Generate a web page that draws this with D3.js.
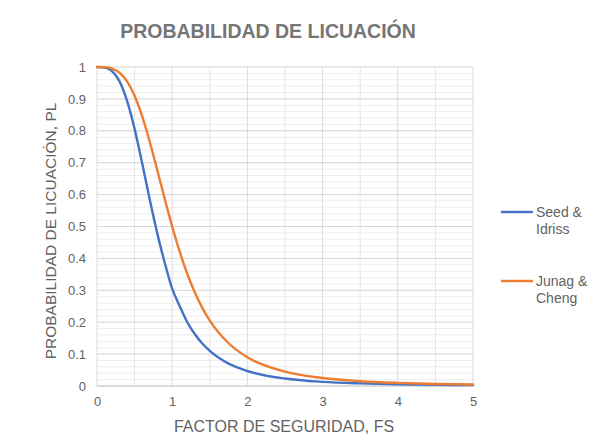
<!DOCTYPE html>
<html><head><meta charset="utf-8">
<script src="https://cdn.jsdelivr.net/npm/d3@7"></script>
<style>
html,body{margin:0;padding:0;background:#fff;}
svg text{font-family:"Liberation Sans",Arial,sans-serif;}
</style></head>
<body>
<svg id="chart" width="592" height="434"></svg>
<script>
const fsValues = [0, 0.1, 0.2, 0.3, 0.4, 0.5, 0.6, 0.7, 0.8, 0.9, 1.0, 1.1, 1.2, 1.3, 1.4, 1.5, 1.75, 2.0, 2.5, 3.0, 3.5, 4.0, 4.5, 5.0];
const seedIdriss = [1.0, 0.9986, 0.987, 0.955, 0.894, 0.806, 0.699, 0.586, 0.48, 0.387, 0.305, 0.25, 0.2, 0.163, 0.133, 0.11, 0.07, 0.047, 0.0235, 0.013, 0.0081, 0.0053, 0.0037, 0.0026];
const juangCheng = [1.0, 0.9995, 0.995, 0.982, 0.955, 0.91, 0.846, 0.767, 0.678, 0.587, 0.5, 0.421, 0.352, 0.294, 0.245, 0.205, 0.134, 0.09, 0.045, 0.025, 0.015, 0.0097, 0.0065, 0.0046];
const seriesNames = ["Seed & Idriss", "Junag & Cheng"];
const seriesColors = ["#4472C4", "#ED7D31"];
const xTicks = [0, 1, 2, 3, 4, 5];
const yTicks = [0, 0.1, 0.2, 0.3, 0.4, 0.5, 0.6, 0.7, 0.8, 0.9, 1];

(function () {
const svg = d3.select("#chart");
const pL = 97, pR = 473, pT = 67, pB = 386;
const x = d3.scaleLinear().domain([0, 5]).range([pL, pR]);
const y = d3.scaleLinear().domain([0, 1]).range([pB, pT]);

const g = svg.append("g");
d3.range(0, 1.0001, 0.02).forEach(v => {
  g.append("line").attr("x1", pL).attr("x2", pR).attr("y1", y(v)).attr("y2", y(v))
   .attr("stroke", "#efefef").attr("stroke-width", 1);
});
d3.range(0, 5.0001, 0.5).forEach(v => {
  g.append("line").attr("x1", x(v)).attr("x2", x(v)).attr("y1", pT).attr("y2", pB)
   .attr("stroke", Number.isInteger(v) ? "#dcdcdc" : "#e6e6e6").attr("stroke-width", 1);
});
yTicks.forEach(v => {
  g.append("line").attr("x1", pL).attr("x2", pR).attr("y1", y(v)).attr("y2", y(v))
   .attr("stroke", "#d9d9d9").attr("stroke-width", 1);
});
svg.append("line").attr("x1", pL).attr("x2", pR).attr("y1", pB).attr("y2", pB)
   .attr("stroke", "#d0d0d0").attr("stroke-width", 1);

const yAxis = d3.axisLeft(y).tickValues(yTicks).tickSize(0).tickPadding(11).tickFormat(d => String(+d.toFixed(1)));
const ya = svg.append("g").attr("transform", `translate(${pL},0)`).call(yAxis);
ya.select(".domain").remove();
ya.selectAll("text").attr("fill", "#636363").attr("font-size", 13);

const xAxis = d3.axisBottom(x).tickValues(xTicks).tickSize(0).tickPadding(11).tickFormat(d3.format("d"));
const xa = svg.append("g").attr("transform", `translate(0,${pB})`).call(xAxis);
xa.select(".domain").remove();
xa.selectAll("text").attr("fill", "#636363").attr("font-size", 13);

const line = d3.line().x((d, i) => x(fsValues[i])).y(d => y(d)).curve(d3.curveMonotoneX);
[seedIdriss, juangCheng].forEach((s, k) => {
  svg.append("path").datum(s).attr("d", line).attr("fill", "none")
     .attr("stroke", seriesColors[k]).attr("stroke-width", 2.4).attr("stroke-linecap", "round");
});

svg.append("text").attr("x", 268).attr("y", 38).attr("text-anchor", "middle")
   .attr("font-size", 19.5).attr("font-weight", "bold").attr("fill", "#757575")
   .text("PROBABILIDAD DE LICUACIÓN");

svg.append("text").attr("x", 284).attr("y", 432).attr("text-anchor", "middle")
   .attr("font-size", 16).attr("fill", "#636363").text("FACTOR DE SEGURIDAD, FS");
svg.append("text").attr("transform", "translate(56,231) rotate(-90)").attr("text-anchor", "middle")
   .attr("font-size", 15.5).attr("fill", "#636363").text("PROBABILIDAD DE LICUACIÓN, PL");

const legY = [212, 281];
const legLines = [["Seed &", "Idriss"], ["Junag &", "Cheng"]];
legY.forEach((ly, k) => {
  svg.append("line").attr("x1", 501).attr("x2", 533).attr("y1", ly).attr("y2", ly)
     .attr("stroke", seriesColors[k]).attr("stroke-width", 2.4);
  legLines[k].forEach((t, j) => {
    svg.append("text").attr("x", 536).attr("y", ly + 5 + j * 17).attr("font-size", 14)
       .attr("fill", "#636363").text(t);
  });
});
})();
</script>
</body></html>
